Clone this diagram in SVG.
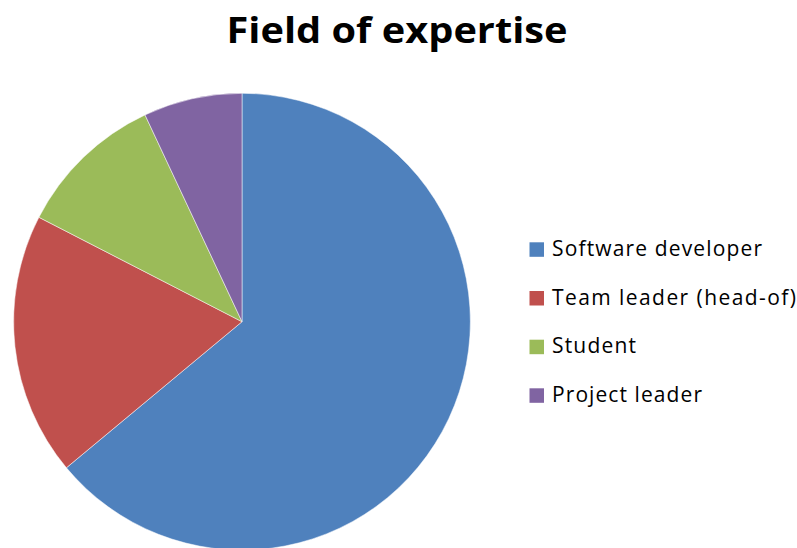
<svg xmlns="http://www.w3.org/2000/svg" width="797" height="548" viewBox="0 0 797 548">
<style>
.title{font-family:"Open Sans","Liberation Sans",sans-serif;font-weight:bold;font-size:35px;fill:#000}
.leg{font-family:"Open Sans","Liberation Sans",sans-serif;font-size:21px;fill:#000}
.slice{stroke:#fff;stroke-width:0.5;stroke-linejoin:round}
</style>
<rect width="797" height="548" fill="#fff"/>
<text class="title" x="226.5" y="43.3" textLength="341" lengthAdjust="spacingAndGlyphs">Field of expertise</text>
<g id="pie">
<path id="software" class="slice" fill="#4F81BD" d="M242,321.7 L242,93.3 A228.4,228.4 0 1 1 66.4,467.8 Z"/>
<path id="team" class="slice" fill="#C0504D" d="M242,321.7 L66.4,467.8 A228.4,228.4 0 0 1 38.9,217.3 Z"/>
<path id="student" class="slice" fill="#9BBB59" d="M242,321.7 L38.9,217.3 A228.4,228.4 0 0 1 145.0,114.9 Z"/>
<path id="project" class="slice" fill="#8064A2" d="M242,321.7 L145.0,114.9 A228.4,228.4 0 0 1 242,93.3 Z"/>
</g>
<g id="legend">
<rect x="529.5" y="242.3" width="14.5" height="14.5" fill="#4F81BD"/>
<text class="leg" x="552" y="256" textLength="210">Software developer</text>
<rect x="529.5" y="291" width="14.5" height="14.5" fill="#C0504D"/>
<text class="leg" x="552" y="304.5" textLength="244">Team leader (head-of)</text>
<rect x="529.5" y="339.7" width="14.5" height="14.5" fill="#9BBB59"/>
<text class="leg" x="552" y="353" textLength="84">Student</text>
<rect x="529.5" y="388.3" width="14.5" height="14.5" fill="#8064A2"/>
<text class="leg" x="552" y="401.5" textLength="150">Project leader</text>
</g>
</svg>
